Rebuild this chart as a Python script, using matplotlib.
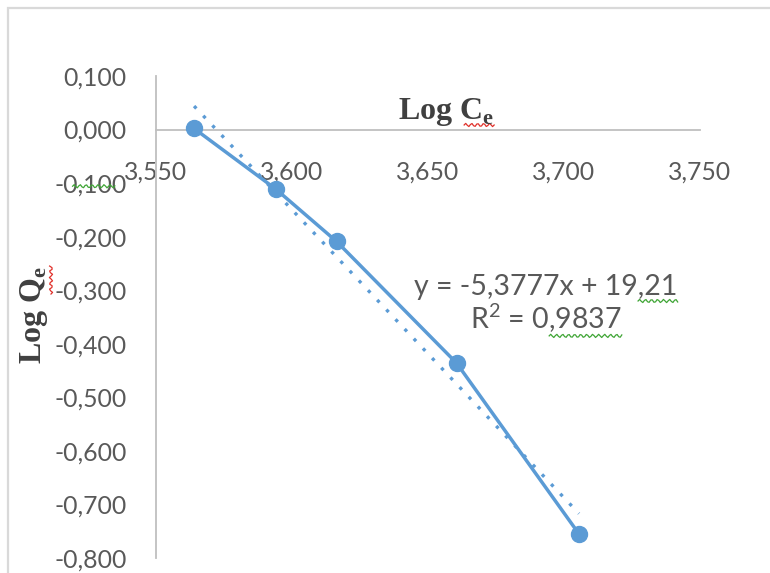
import numpy as np
import matplotlib
matplotlib.use("Agg")
import matplotlib.pyplot as plt
from matplotlib.patches import Rectangle
from matplotlib.ticker import FixedLocator, FuncFormatter

plt.rcParams["mathtext.fontset"] = "custom"
plt.rcParams["mathtext.rm"] = "Liberation Serif:bold"
plt.rcParams["mathtext.bf"] = "Liberation Serif:bold"
plt.rcParams["mathtext.sf"] = "Lato"

# Isotherm data (Freundlich linearisation)
log_ce = [3.564, 3.594, 3.6164, 3.6605, 3.7055]
log_qe = [0.002, -0.111, -0.209, -0.436, -0.755]

# Linear trendline as reported
slope = -5.3777
intercept = 19.21
r_squared = 0.9837

x_ticks = [3.550, 3.600, 3.650, 3.700, 3.750]
y_ticks = [0.100, 0.000, -0.100, -0.200, -0.300, -0.400, -0.500, -0.600, -0.700, -0.800]

BLUE = "#5B9BD5"
TICK_GREY = "#595959"
AXIS_GREY = "#BFBFBF"
TICK_FONT = "Lato"

W, H = 770, 573
fig = plt.figure(figsize=(W / 100, H / 100), dpi=100)
fig.patch.set_facecolor("white")

# chart-area border
fig.patches.append(Rectangle((8 / W, -0.2), 1.5, 1.2 - 8 / H, transform=fig.transFigure,
                             fill=False, edgecolor="#D9D9D9", lw=1.6))

left, right = 156 / W, 700 / W
top, bottom = 1 - 76 / H, 1 - 558 / H
ax = fig.add_axes([left, bottom, right - left, top - bottom])
ax.set_xlim(3.55, 3.75)
ax.set_ylim(-0.8, 0.1)

for s in ("top", "right"):
    ax.spines[s].set_visible(False)
ax.spines["bottom"].set_position(("data", 0))
for s in ("bottom", "left"):
    ax.spines[s].set_color(AXIS_GREY)
    ax.spines[s].set_linewidth(1.3)

comma = FuncFormatter(lambda v, p: f"{v:.3f}".replace(".", ","))
ax.xaxis.set_major_locator(FixedLocator(x_ticks))
ax.yaxis.set_major_locator(FixedLocator(y_ticks))
ax.xaxis.set_major_formatter(comma)
ax.yaxis.set_major_formatter(comma)
ax.tick_params(axis="both", length=0, labelcolor=TICK_GREY, labelsize=17.8)
ax.tick_params(axis="x", pad=22)
ax.tick_params(axis="y", pad=21)
for lab in ax.get_xticklabels() + ax.get_yticklabels():
    lab.set_fontfamily(TICK_FONT)

# data series
ax.plot(log_ce, log_qe, color=BLUE, lw=2.5, marker="o", markersize=11.5,
        solid_capstyle="round", zorder=3, clip_on=False)

# dotted trendline
xt = np.array([min(log_ce), max(log_ce)])
ax.plot(xt, slope * xt + intercept, color=BLUE, lw=2.4, linestyle=(0, (1, 3)),
        dash_capstyle="butt", zorder=2, clip_on=False)

# axis titles
xlab = fig.text(398 / W, 1 - 112 / H, r"Log C$_\mathrm{e}$", fontsize=23,
                family="Liberation Serif", weight="bold", color="#404040",
                ha="left", va="center")
ylab = fig.text(34 / W, 1 - 315 / H, r"Log Q$_\mathrm{e}$", fontsize=23,
                family="Liberation Serif", weight="bold", color="#404040",
                ha="center", va="center", rotation=90)

# trendline equation
eq_text = f"y = {slope:.4f}x + {intercept:.2f}".replace(".", ",")
r2_value = f"{r_squared:.4f}".replace(".", ",")
r2_text = r"R$^{\mathsf{2}}$ = " + r2_value
eq = fig.text(546 / W, 1 - 287 / H, eq_text, fontsize=20.5, family=TICK_FONT,
              color=TICK_GREY, ha="center", va="center")
r2 = fig.text(546 / W, 1 - 318 / H, r2_text, fontsize=20.5, family=TICK_FONT,
              color=TICK_GREY, ha="center", va="center")

fig.canvas.draw()
renderer = fig.canvas.get_renderer()


def text_width(txt, s):
    tmp = fig.text(0, 0, s, fontproperties=txt.get_fontproperties())
    w = tmp.get_window_extent(renderer).width
    tmp.remove()
    return w


def squiggle(x0, x1, y, color, vertical=False):
    n = max(int(abs(x1 - x0) / 1.5), 4)
    t = np.linspace(x0, x1, n)
    wave = 1.6 * np.sin((t - x0) / 3.0 * np.pi)
    if vertical:
        xs, ys = y + wave, t
    else:
        xs, ys = t, y + wave
    fig.add_artist(plt.Line2D(xs / W, ys / H, transform=fig.transFigure,
                              color=color, lw=0.9))


# spell-check marks
bb = eq.get_window_extent(renderer)
x_start = bb.x0 + text_width(eq, eq_text[:-3])
squiggle(x_start, bb.x1, bb.y0 - 1, "#3FA535")
bb = r2.get_window_extent(renderer)
x_start = bb.x1 - text_width(r2, r2_value[1:])
squiggle(x_start, bb.x1, bb.y0 - 1, "#3FA535")
bb = xlab.get_window_extent(renderer)
squiggle(bb.x1 - 30, bb.x1, bb.y0 + 3, "#E0302A")
bb = ylab.get_window_extent(renderer)
squiggle(bb.y1 - 28, bb.y1, bb.x1 + 1, "#E0302A", vertical=True)
for lab in ax.get_yticklabels():
    if lab.get_text() == "-0,100":
        lb = lab.get_window_extent(renderer)
        squiggle(lb.x0 + 18, lb.x1 - 12, lb.y0 + lb.height * 0.45, "#3FA535")

fig.savefig("out.png", dpi=100)
